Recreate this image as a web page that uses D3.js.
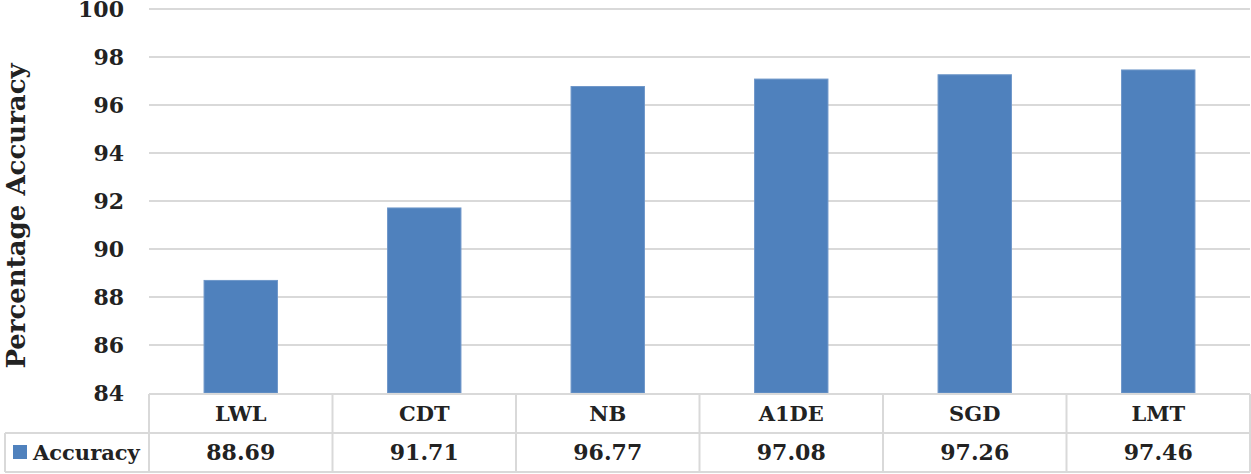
<!DOCTYPE html>
<html><head><meta charset="utf-8">
<script src="https://cdn.jsdelivr.net/npm/d3@7"></script>
<style>html,body{margin:0;padding:0;background:#fff;}svg{display:block;}</style>
</head><body>
<script>
const categories = ["LWL","CDT","NB","A1DE","SGD","LMT"];
const accuracy = [88.69,91.71,96.77,97.08,97.26,97.46];
const valueLabels = ["88.69","91.71","96.77","97.08","97.26","97.46"];
const yTicks = [84,86,88,90,92,94,96,98,100];
const seriesName = "Accuracy";

const W = 1251, H = 474;
const font = "'DejaVu Serif', serif";
const svg = d3.select("body").append("svg").attr("width", W).attr("height", H);

const pLeft = 149, pRight = 1250, pTop = 9, pBottom = 393;
const x = d3.scaleBand().domain(categories).range([pLeft, pRight]).paddingInner(0.6).paddingOuter(0.3);
const xCol = d3.scaleBand().domain(categories).range([pLeft, pRight]);
const y = d3.scaleLinear().domain([84,100]).range([pBottom, pTop]);

// gridlines
svg.append("g").selectAll("line").data(yTicks.slice(1)).join("line")
  .attr("x1", pLeft).attr("x2", pRight)
  .attr("y1", d => y(d)).attr("y2", d => y(d))
  .attr("stroke", "#d9d9d9").attr("stroke-width", 2);

// y tick labels via axis
const yAxis = svg.append("g").attr("transform", `translate(${pLeft-25},0)`)
  .call(d3.axisLeft(y).tickValues(yTicks).tickSize(0).tickPadding(0));
yAxis.select(".domain").remove();
yAxis.selectAll("text").attr("font-family", font).attr("font-weight", "bold")
  .attr("font-size", 22).attr("fill", "#222").attr("dy", "0.36em");

// bars
svg.append("g").selectAll("rect").data(categories).join("rect")
  .attr("x", d => x(d)).attr("width", x.bandwidth())
  .attr("y", (d,i) => y(accuracy[i])).attr("height", (d,i) => y(84) - y(accuracy[i]))
  .attr("fill", "#4f81bd").attr("stroke", "#6f97c9").attr("stroke-width", 1);

// y label
svg.append("text").attr("transform", `translate(25,216) rotate(-90)`)
  .attr("text-anchor", "middle").attr("font-family", font).attr("font-weight", "bold")
  .attr("font-size", 26).attr("fill", "#222").text("Percentage Accuracy");

// data table
const r0 = 394, r1 = 433, r2 = 472;
const tbl = svg.append("g").attr("stroke", "#d9d9d9").attr("stroke-width", 2);
tbl.append("line").attr("x1", pLeft).attr("x2", pRight).attr("y1", r0).attr("y2", r0);
tbl.append("line").attr("x1", 5).attr("x2", pRight).attr("y1", r1).attr("y2", r1);
tbl.append("line").attr("x1", 5).attr("x2", pRight).attr("y1", r2).attr("y2", r2);
tbl.append("line").attr("x1", 5).attr("x2", 5).attr("y1", r1).attr("y2", r2);
tbl.selectAll(".v").data(categories).join("line").attr("class","v")
  .attr("x1", d => xCol(d)).attr("x2", d => xCol(d)).attr("y1", r0).attr("y2", r2);
tbl.append("line").attr("x1", pRight).attr("x2", pRight).attr("y1", r0).attr("y2", r2);

svg.append("g").selectAll("text").data(categories).join("text")
  .attr("x", d => xCol(d) + xCol.bandwidth()/2).attr("y", (r0+r1)/2).attr("dy", "0.36em")
  .attr("text-anchor", "middle").attr("font-family", font).attr("font-weight", "bold")
  .attr("font-size", 21).attr("fill", "#222").text(d => d);
svg.append("g").selectAll("text").data(valueLabels).join("text")
  .attr("x", (d,i) => xCol(categories[i]) + xCol.bandwidth()/2).attr("y", (r1+r2)/2).attr("dy", "0.36em")
  .attr("text-anchor", "middle").attr("font-family", font).attr("font-weight", "bold")
  .attr("font-size", 22).attr("fill", "#222").text(d => d);

// legend key
svg.append("rect").attr("x", 13).attr("y", 445).attr("width", 14).attr("height", 14).attr("fill", "#4f81bd");
svg.append("text").attr("x", 33).attr("y", (r1+r2)/2).attr("dy", "0.36em")
  .attr("font-family", font).attr("font-weight", "bold").attr("font-size", 21)
  .attr("fill", "#222").text(seriesName);
</script>
</body></html>
